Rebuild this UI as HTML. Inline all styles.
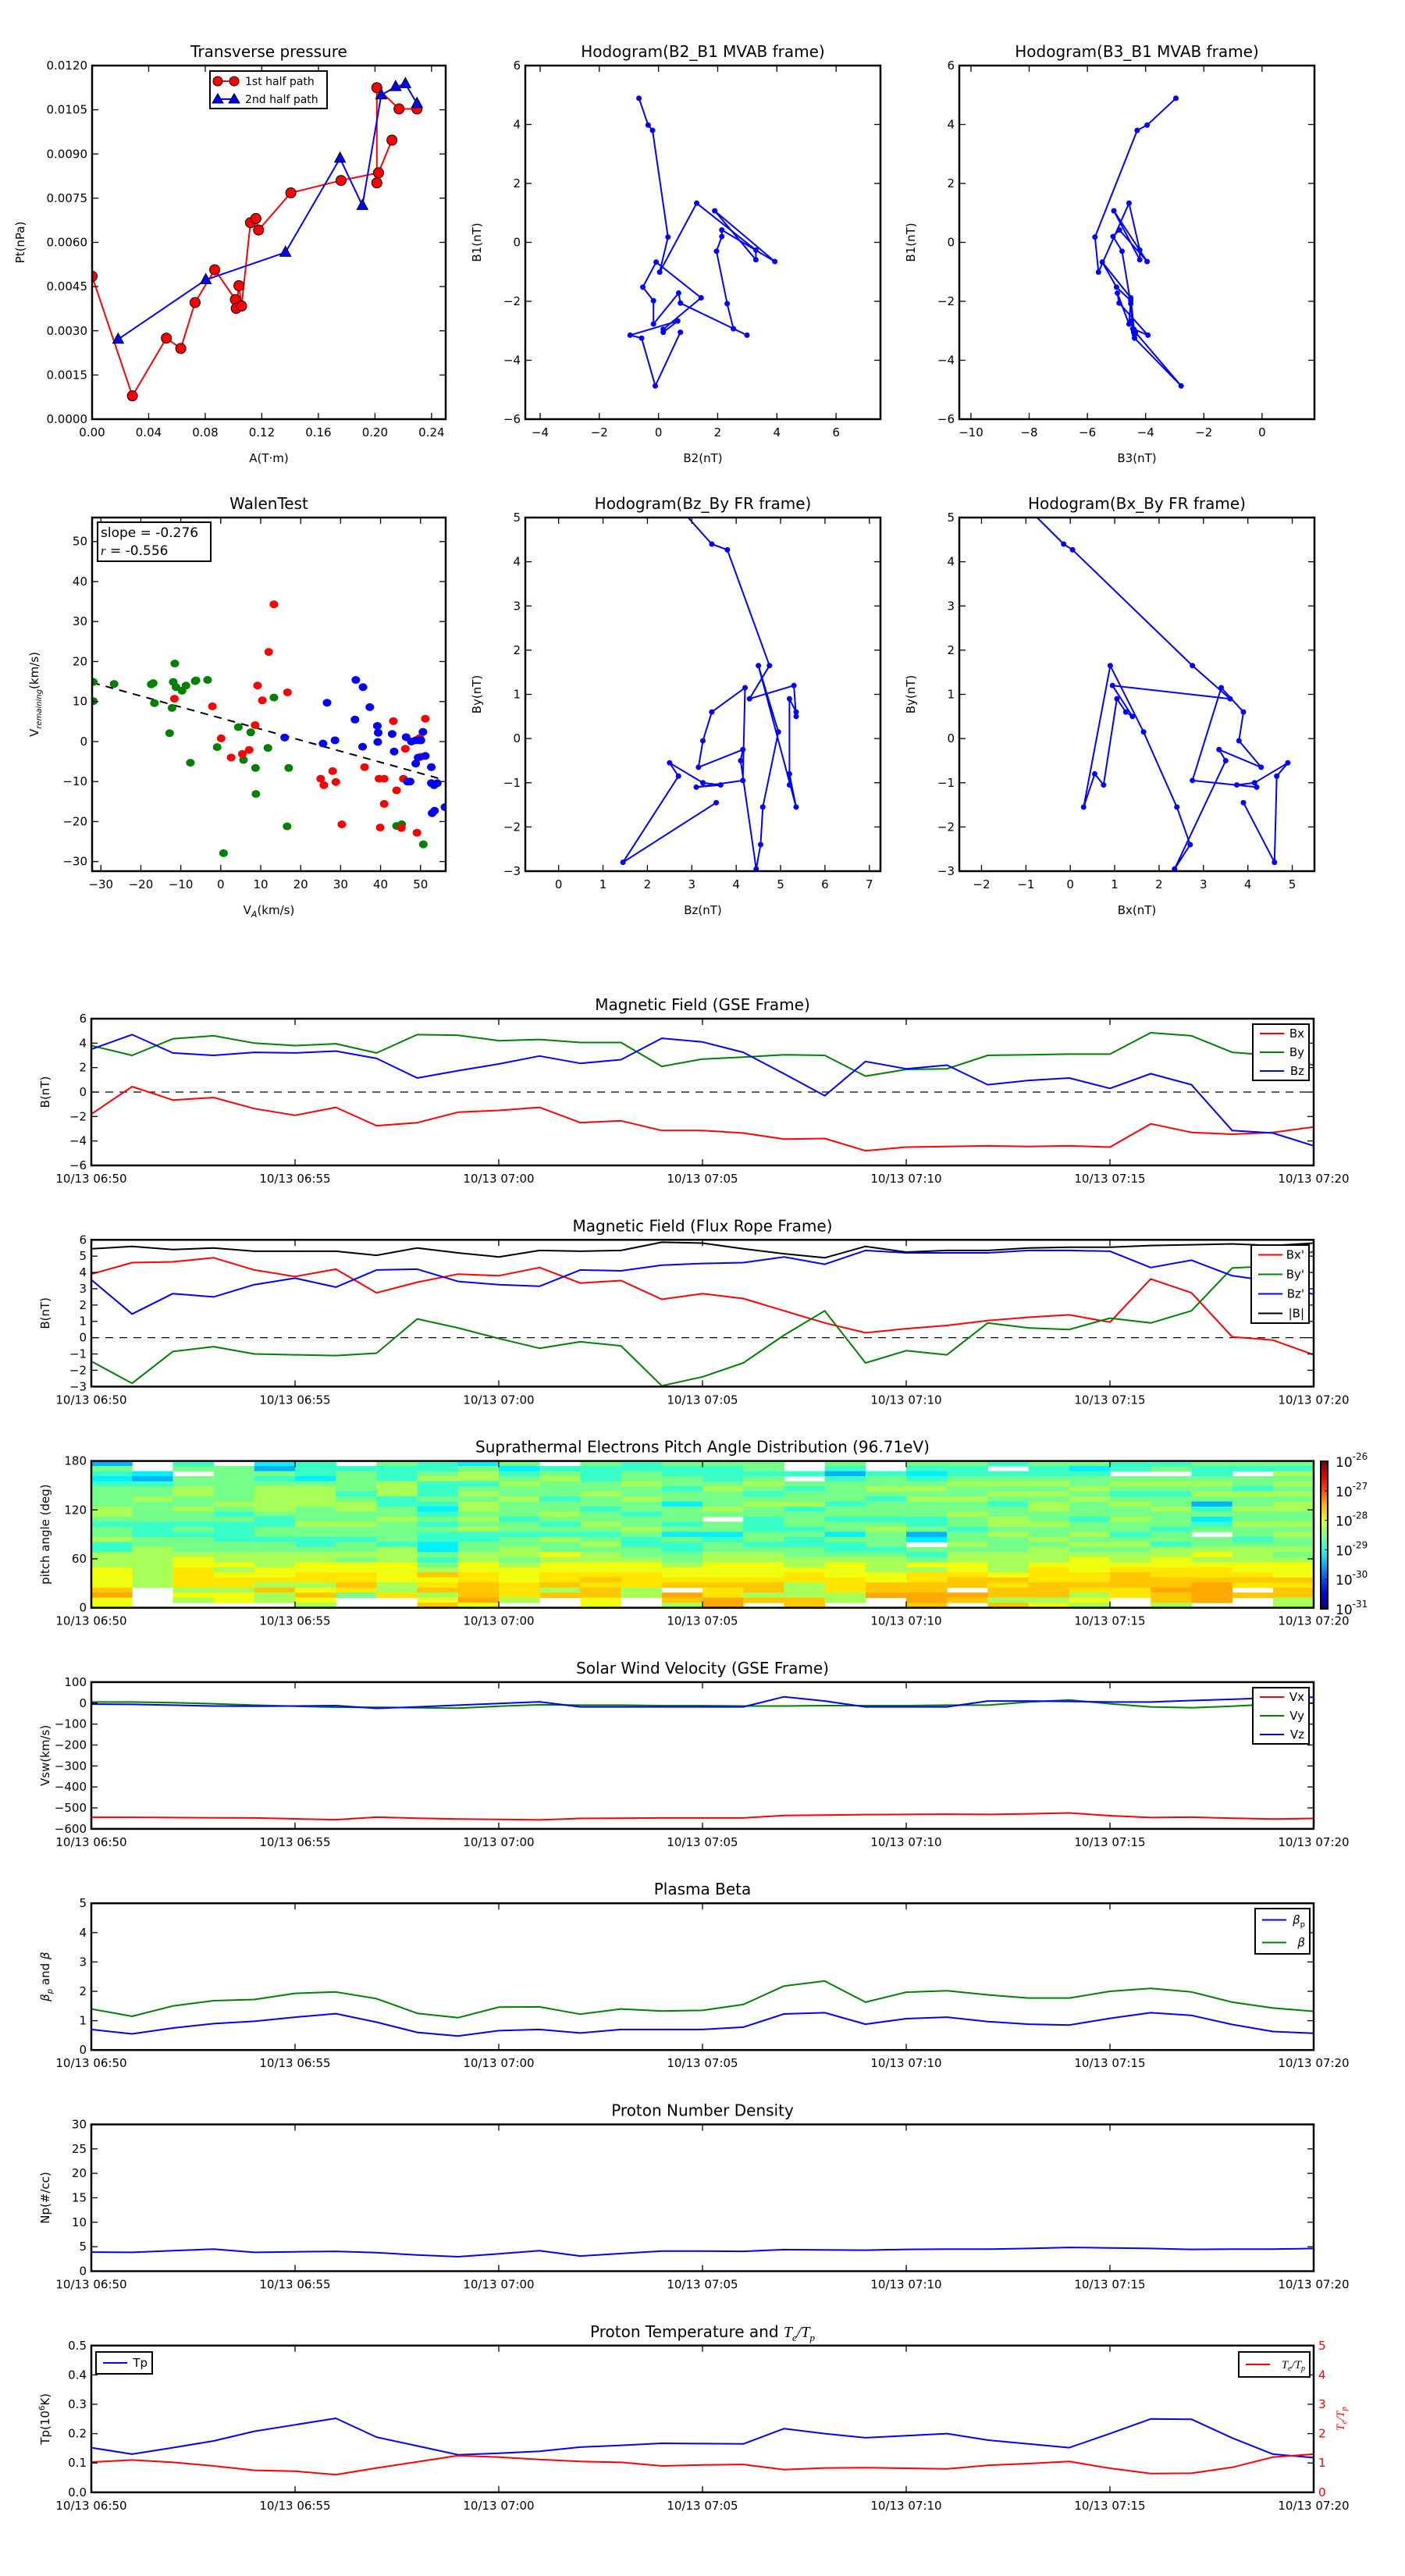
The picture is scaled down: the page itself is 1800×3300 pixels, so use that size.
<!DOCTYPE html>
<html><head><meta charset="utf-8"><title>Flux rope analysis</title>
<style>
html,body{margin:0;padding:0;background:#fff;}
svg{display:block;font-family:"DejaVu Sans","Liberation Sans",sans-serif;}
</style></head>
<body>
<svg id="fig" xmlns="http://www.w3.org/2000/svg" width="1800" height="3300" viewBox="0 0 1800 3300"><defs id="defs"></defs><rect x="0" y="0" width="1800" height="3300" fill="#fff"/></svg>
<script>
// ---------- data ----------
const ptRedA=[0,0.0285,0.0525,0.0627,0.0728,0.0867,0.1013,0.1019,0.1038,0.1057,0.112,0.1158,0.1177,0.1405,0.176,0.2025,0.212,0.2025,0.2013,0.2013,0.217,0.2297];
const ptRedP=[0.00485,0.00079,0.00275,0.0024,0.00396,0.00507,0.00406,0.00376,0.00453,0.00384,0.00667,0.00681,0.00642,0.00768,0.0081,0.00836,0.00947,0.00836,0.00802,0.01125,0.01053,0.01053];
const ptBlueA=[0.0184,0.0804,0.1367,0.1753,0.1911,0.2044,0.2146,0.2215,0.2297];
const ptBlueP=[0.00271,0.00473,0.00566,0.00885,0.00725,0.0110,0.01128,0.01138,0.01071];
const hodoB2=[-0.66,-0.35,-0.20,0.32,0.04,1.29,3.29,3.29,1.90,3.93,2.14,2.14,1.96,2.32,2.53,2.99,0.74,0.68,-0.17,-0.17,-0.53,-0.08,1.44,0.16,0.16,0.65,-0.96,-0.57,-0.11,0.74];
const hodoB1=[4.89,3.98,3.80,0.18,-1.01,1.33,-0.26,-0.59,1.07,-0.65,0.42,0.20,-0.30,-2.08,-2.93,-3.15,-2.06,-1.72,-2.77,-1.98,-1.52,-0.67,-1.88,-2.95,-3.05,-2.67,-3.15,-3.25,-4.87,-3.05];
const hodoB3=[-2.96,-3.95,-4.29,-5.74,-5.62,-4.57,-4.20,-4.20,-5.09,-3.95,-4.9,-5.12,-4.81,-4.51,-4.44,-3.92,-4.91,-4.97,-4.57,-4.51,-5.0,-5.49,-4.51,-4.4,-4.41,-4.5,-4.38,-4.38,-2.78,-4.35];
const walenGreenX=[-31.9,-31.9,-26.7,-17.4,-16.9,-16.6,-12.2,-11.9,-11.5,-11.2,-9.7,-8.7,-6.4,-6.2,-3.3,-12.8,-7.6,-0.9,4.4,5.7,7.5,8.7,8.8,11.8,13.3,16.6,17.0,0.7,44.0,45.3,50.7];
const walenGreenY=[14.9,10.1,14.4,14.3,14.6,9.6,8.4,14.9,19.5,13.6,12.7,14.0,15.1,15.3,15.4,2.1,-5.3,-1.4,3.6,-4.6,2.3,-6.6,-13.1,-1.6,11.0,-21.2,-6.6,-27.9,-21.1,-20.7,-25.7];
const walenRedX=[-11.6,-2.1,0.1,2.6,5.4,7.1,8.6,9.2,10.4,12.0,13.3,16.7,25.0,25.8,28.0,28.8,30.3,36.0,39.6,40.9,40.9,39.9,43.2,44.0,45.7,45.2,46.2,49.1,49.8,50.1,51.2];
const walenRedY=[10.7,8.8,0.8,-4.0,-3.1,-2.1,4.1,14.0,10.3,22.4,34.3,12.3,-9.3,-10.9,-7.4,-10.1,-20.7,-6.4,-9.3,-9.3,-15.6,-21.5,5.1,-12.2,-9.3,-21.6,-1.8,-22.8,0.9,-3.8,5.7];
const walenBlueX=[16.0,25.6,26.6,28.6,33.6,33.8,35.5,35.6,37.3,39.2,39.4,39.3,42.9,43.4,46.4,46.7,47.4,47.7,48.8,48.8,49.4,49.8,50.1,50.6,51.2,52.7,52.7,53.4,54.2,52.9,53.5,56.1];
const walenBlueY=[1.0,-0.5,9.7,0.3,5.5,15.4,-1.3,13.6,8.6,3.9,2.2,-0.1,1.9,-2.5,1.1,-10.0,-10.0,0.0,0.3,-5.5,-4.0,0.3,0.3,2.4,-3.6,-6.4,-10.4,-10.9,-10.4,-17.9,-17.3,-16.4];
const walenSlope=-0.276, walenIntercept=5.86;
const timeTickLabels=["10/13 06:50","10/13 06:55","10/13 07:00","10/13 07:05","10/13 07:10","10/13 07:15","10/13 07:20"];
const BxGSE=[-1.8,0.45,-0.65,-0.45,-1.35,-1.9,-1.25,-2.75,-2.5,-1.65,-1.5,-1.25,-2.5,-2.35,-3.15,-3.15,-3.35,-3.85,-3.8,-4.8,-4.5,-4.45,-4.4,-4.45,-4.4,-4.5,-2.6,-3.3,-3.45,-3.3,-2.85];
const ByGSE=[3.8,3.0,4.35,4.6,4.0,3.8,3.95,3.2,4.7,4.65,4.2,4.3,4.05,4.05,2.1,2.7,2.85,3.05,3.0,1.3,1.85,1.9,3.0,3.05,3.1,3.1,4.85,4.6,3.25,3.0,2.2];
const BzGSE=[3.5,4.7,3.2,3.0,3.25,3.2,3.35,2.75,1.15,1.75,2.3,2.95,2.35,2.65,4.4,4.1,3.25,1.5,-0.3,2.5,1.9,2.2,0.6,0.95,1.15,0.3,1.5,0.6,-3.15,-3.35,-4.4];
const BxFR=[3.9,4.6,4.65,4.9,4.15,3.75,4.2,2.75,3.4,3.9,3.8,4.3,3.35,3.5,2.35,2.7,2.4,1.65,0.9,0.3,0.55,0.75,1.05,1.25,1.4,0.95,3.6,2.75,0.05,-0.15,-1.05];
const ByFR=[-1.45,-2.8,-0.85,-0.55,-1.0,-1.05,-1.1,-0.95,1.15,0.6,-0.05,-0.65,-0.25,-0.5,-2.95,-2.4,-1.55,0.15,1.65,-1.55,-0.8,-1.05,0.9,0.6,0.5,1.2,0.9,1.65,4.27,4.4,5.3];
const BzFR=[3.55,1.45,2.7,2.5,3.25,3.65,3.1,4.15,4.2,3.45,3.25,3.15,4.15,4.1,4.45,4.55,4.6,4.95,4.5,5.35,5.2,5.2,5.2,5.35,5.35,5.3,4.3,4.75,3.8,3.45,2.65];
const BtFR=[5.45,5.6,5.4,5.5,5.3,5.3,5.3,5.05,5.5,5.2,4.95,5.35,5.3,5.35,5.85,5.8,5.45,5.15,4.9,5.6,5.25,5.35,5.35,5.5,5.55,5.55,5.65,5.7,5.75,5.65,5.8];
// pitch-angle columns, top (180 deg) to bottom (0 deg); codes = flux levels
const padColumns=[
"bgacaggggllgagglaalllyyyyOryy","..cbagglggggaaaggllllllll....","ag.ggllgglggagagggly yoooolyl.".replace(' ',''),".ggggggglgagaaaaggllylyoolyy..",
"cbgaglllllgaaggaggll lyyolOll.".replace(' ',''),"aaacgllllggglggaaglly yoolyOyl".replace(' ',''),".aggggagllgglggagglgyyooOog..","gaaalllaagglggggalllyyyyllo..",
"aaglaaagacagagaaccgaglOyoOlyO","cgllaglgllglglaagglly ooOOOryy".replace(' ','').replace('ooO','yooO').slice(0,29),"gcaglgglgggaggaggllglyyyoool.",".aglgggagglgagalggylyyooOlO..",
"gaaagglggagglgaglgllyyoOoOOyy","aagglgglggagglgaagglyyoooll..","gaaggaggcgggagcgaagglyyoO.rOl","gaaaglggglg.ggcaggllyyyoOoorr",
"ggaglgaglggaaaggagllyyyoOOlO.","..a.gagglagggagaaggllyoolllOO","gabaggggaggaggcgaaglyyyoooll.","..agglgagggaglgggagllly yOOr..".replace(' ',''),
"gacaglglgggaagbc.gagylooOOrrO","gaaglgglgglggagglgllyyoOO.rO.","a.aglglgaggllglgggllllyOoOOlO.","gaaglglgllgglgglglllyoooOOOly",
"gcagglglgggagglglglyyyooOolyl","aa.glgaglgglggaglgllyoOOOoo..","ag.glgaggl gggaggallyyooOOrOOl".replace(' ',''),"gaaglglgbagcag.ggl ylyooOrrrr.".replace(' ',''),"ga.ggalgglgglggaglllyyoOo.O..","galglglgllgglglgglglyyyOoOOll"];
const padCodes=["b","c","a","g","l","y","o","O","r"];
const padLogFlux=[-29.5,-29.2,-28.85,-28.55,-28.3,-27.95,-27.75,-27.6,-27.45];
const cbarTicks=[-26,-27,-28,-29,-30,-31];
const Vx=[-545,-545,-546,-547,-548,-552,-556,-544,-549,-553,-555,-557,-550,-549,-548,-548,-548,-536,-534,-532,-531,-530,-531,-528,-524,-537,-546,-544,-549,-553,-550];
const Vy=[5,5,2,-3,-10,-15,-20,-20,-22,-24,-15,-8,-10,-10,-12,-12,-14,-14,-12,-12,-12,-10,-10,5,15,-3,-18,-22,-15,-5,0];
const Vz=[-5,-6,-10,-14,-15,-14,-12,-25,-18,-10,-2,6,-18,-18,-18,-18,-18,30,10,-18,-18,-18,10,10,8,5,5,12,18,25,28];
const betaP=[0.7,0.55,0.75,0.9,0.98,1.12,1.24,0.95,0.6,0.48,0.66,0.7,0.58,0.7,0.7,0.7,0.78,1.23,1.27,0.88,1.07,1.12,0.97,0.88,0.85,1.08,1.27,1.18,0.87,0.63,0.57];
const betaT=[1.4,1.15,1.5,1.68,1.72,1.93,1.98,1.75,1.25,1.1,1.46,1.47,1.22,1.4,1.33,1.35,1.55,2.18,2.35,1.63,1.97,2.02,1.88,1.77,1.77,2.0,2.1,1.98,1.63,1.43,1.32];
const Np=[3.9,3.85,4.2,4.5,3.85,3.95,4.05,3.8,3.3,2.95,3.55,4.2,3.1,3.6,4.1,4.1,4.05,4.4,4.35,4.3,4.45,4.5,4.5,4.65,4.85,4.75,4.65,4.45,4.5,4.5,4.65];
const Tp=[0.152,0.13,0.152,0.175,0.208,0.23,0.252,0.188,0.158,0.128,0.133,0.14,0.154,0.16,0.167,0.166,0.165,0.217,0.2,0.186,0.193,0.2,0.178,0.165,0.152,0.2,0.25,0.249,0.185,0.13,0.118];
const TeTp=[1.03,1.1,1.02,0.9,0.75,0.72,0.6,0.83,1.04,1.25,1.2,1.12,1.05,1.02,0.9,0.93,0.95,0.77,0.83,0.84,0.82,0.8,0.92,0.98,1.05,0.82,0.64,0.65,0.85,1.2,1.3];

// ---------- helpers ----------
const NS='http://www.w3.org/2000/svg';
const svg=document.getElementById('fig');
const defs=document.getElementById('defs');
function el(tag,attrs,parent){const e=document.createElementNS(NS,tag);for(const k in attrs)e.setAttribute(k,attrs[k]);(parent||svg).appendChild(e);return e;}
function txt(str,attrs,parent){const e=el('text',attrs,parent);e.textContent=str;return e;}
let axCount=0;
function makeAxes(name,x,y,w,h,xmin,xmax,ymin,ymax){
  const sx=v=>x+(v-xmin)/(xmax-xmin)*w;
  const sy=v=>y+h-(v-ymin)/(ymax-ymin)*h;
  const g=el('g',{});
  
  
  const cid='clip'+(axCount++);
  const cp=el('clipPath',{id:cid},defs);
  el('rect',{x:x,y:y,width:w,height:h},cp);
  const plot=el('g',{'clip-path':'url(#'+cid+')'},g);
  
  
  return {x,y,w,h,sx,sy,g,plot,name};
}
function fmt(v){return String(v).replace('-','\u2212');}
function frame(ax,xt,xl,yt,yl,opts){
  opts=opts||{};
  const g=el('g',{},ax.g);
  
  
  const tl=8;
  xt.forEach((v,i)=>{
    const px=ax.sx(v);
    el('line',{x1:px,y1:ax.y+ax.h,x2:px,y2:ax.y+ax.h-tl,stroke:'#000','stroke-width':1.3},g);
    el('line',{x1:px,y1:ax.y,x2:px,y2:ax.y+tl,stroke:'#000','stroke-width':1.3},g);
    if(xl){const t=txt(xl[i],{x:px,y:ax.y+ax.h+22,'text-anchor':'middle','font-size':15,fill:'#000'},g);
      
      }
  });
  yt.forEach((v,i)=>{
    const py=ax.sy(v);
    el('line',{x1:ax.x,y1:py,x2:ax.x+tl,y2:py,stroke:'#000','stroke-width':1.3},g);
    if(!opts.noRightTicks) el('line',{x1:ax.x+ax.w,y1:py,x2:ax.x+ax.w-tl,y2:py,stroke:'#000','stroke-width':1.3},g);
    if(yl){const t=txt(yl[i],{x:ax.x-6,y:py+5,'text-anchor':'end','font-size':15,fill:'#000'},g);
      
      }
  });
  el('rect',{x:ax.x,y:ax.y,width:ax.w,height:ax.h,fill:'none',stroke:'#000','stroke-width':2.5},g);
}
function title(ax,str){
  const t=txt(str,{x:ax.x+ax.w/2,y:ax.y-11,'text-anchor':'middle','font-size':20,fill:'#000'},ax.g);
  
  
  return t;
}
function xlabel(ax,str){
  const t=txt(str,{x:ax.x+ax.w/2,y:ax.y+ax.h+55,'text-anchor':'middle','font-size':15,fill:'#000'},ax.g);
  
  
  return t;
}
function ylabel(ax,str,x,color){
  const cy=ax.y+ax.h/2;
  const t=txt(str,{x:x,y:cy,'text-anchor':'middle','font-size':15,fill:color||'#000',transform:'rotate(-90 '+x+' '+cy+')'},ax.g);
  
  
  return t;
}
function line(ax,xs,ys,color,name,w){
  const d=xs.map((v,i)=>(i?'L':'M')+ax.sx(v).toFixed(1)+' '+ax.sy(ys[i]).toFixed(1)).join(' ');
  const p=el('path',{d:d,fill:'none',stroke:color,'stroke-width':w||2,'stroke-linejoin':'round'},ax.plot);
  
  
  return p;
}
function dots(ax,xs,ys,color,name,rx,ry){
  const g=el('g',{},ax.plot);
  
  
  xs.forEach((v,i)=>{
    const c=el('ellipse',{cx:ax.sx(v),cy:ax.sy(ys[i]),rx:rx,ry:ry||rx,fill:color},g);
    
    
  });
  return g;
}
function hline0(ax,xmin,xmax){
  const p=el('line',{x1:ax.sx(xmin),x2:ax.sx(xmax),y1:ax.sy(0),y2:ax.sy(0),stroke:'#000','stroke-width':1.3,'stroke-dasharray':'10 8'},ax.plot);
  
  
}
function legend(parentAx,x,y,w,h,entries,name){
  const g=el('g',{},parentAx.g);
  
  
  el('rect',{x:x,y:y,width:w,height:h,fill:'#fff',stroke:'#000','stroke-width':2},g);
  const step=h/entries.length;
  entries.forEach((e,i)=>{
    const cy=y+step*(i+0.5);
    const item=el('g',{},g);
    
    
    el('line',{x1:x+9,x2:x+40,y1:cy,y2:cy,stroke:e.c,'stroke-width':2},item);
    const t=txt(e.t,{x:x+w-6,y:cy+5,'text-anchor':'end','font-size':15,fill:'#000'},item);
    if(e.html){t.textContent='';e.html(t);}
  });
  return g;
}
const minutes=Array.from({length:31},(_,i)=>i);
const timeTicks=[0,5,10,15,20,25,30];
function range(a,b,s){const r=[];for(let v=a;v<=b+1e-9;v+=s)r.push(+v.toFixed(6));return r;}

// ---------- Row 1 ----------
{
  const ax=makeAxes('transverse-pressure',118,84,453,453,0,0.25,0,0.012);
  line(ax,ptRedA,ptRedP,'#f00','first-half-path-line',2);
  line(ax,ptBlueA,ptBlueP,'#00f','second-half-path-line',2);
  const gr=el('g',{},ax.plot);
  
  
  ptRedA.forEach((v,i)=>{el('circle',{cx:ax.sx(v),cy:ax.sy(ptRedP[i]),r:6.5,fill:'#f00',stroke:'#000','stroke-width':1},gr);});
  const gb=el('g',{},ax.plot);
  
  
  ptBlueA.forEach((v,i)=>{const cx=ax.sx(v),cy=ax.sy(ptBlueP[i]);
    el('path',{d:`M${cx} ${cy-8} L${cx+7} ${cy+5} L${cx-7} ${cy+5} Z`,fill:'#00f',stroke:'#000','stroke-width':1},gb);});
  const xt=range(0,0.24,0.04), yt=range(0,0.012,0.0015);
  frame(ax,xt,xt.map(v=>v.toFixed(2)),yt,yt.map(v=>v.toFixed(4)));
  title(ax,'Transverse pressure');
  xlabel(ax,'A(T\u00b7m)');
  ylabel(ax,'Pt(nPa)',31);
  const lg=el('g',{},ax.g);
  
  
  el('rect',{x:269,y:91,width:150,height:48,fill:'#fff',stroke:'#000','stroke-width':2},lg);
  el('line',{x1:279,x2:300,y1:104,y2:104,stroke:'#f00','stroke-width':2},lg);
  el('circle',{cx:279,cy:104,r:6,fill:'#f00',stroke:'#000'},lg);
  el('circle',{cx:300,cy:104,r:6,fill:'#f00',stroke:'#000'},lg);
  txt('1st half path',{x:314,y:109,'font-size':14},lg);
  el('line',{x1:279,x2:300,y1:127,y2:127,stroke:'#00f','stroke-width':2},lg);
  el('path',{d:'M279 120 L286 132 L272 132 Z M300 120 L307 132 L293 132 Z',fill:'#00f',stroke:'#000'},lg);
  txt('2nd half path',{x:314,y:132,'font-size':14},lg);
}
function hodo(name,x,xs,ys,xmin,xmax,ymin,ymax,xt,yt,tt,xl,yl,yTop){
  const ax=makeAxes(name,x,yTop,455,453,xmin,xmax,ymin,ymax);
  line(ax,xs,ys,'#00f',name+'-path',2);
  dots(ax,xs,ys,'#00f',name+'-points',3.5);
  frame(ax,xt,xt.map(fmt),yt,yt.map(fmt));
  title(ax,tt); xlabel(ax,xl); ylabel(ax,yl,x-57);
}
hodo('hodogram-b2-b1',673,hodoB2,hodoB1,-4.5,7.5,-6,6,range(-4,6,2),range(-6,6,2),'Hodogram(B2_B1 MVAB frame)','B2(nT)','B1(nT)',84);
hodo('hodogram-b3-b1',1229,hodoB3,hodoB1,-10.4,1.8,-6,6,range(-10,0,2),range(-6,6,2),'Hodogram(B3_B1 MVAB frame)','B3(nT)','B1(nT)',84);

// ---------- Row 2 ----------
{
  const ax=makeAxes('walen-test',118,663,453,453,-32.2,56.3,-32.4,56);
  const ln=el('line',{x1:ax.sx(-32.2),y1:ax.sy(walenIntercept+walenSlope*-32.2),x2:ax.sx(54.6),y2:ax.sy(walenIntercept+walenSlope*54.6),stroke:'#000','stroke-width':2,'stroke-dasharray':'10 8'},ax.plot);
  
  
  dots(ax,walenGreenX,walenGreenY,'#008000','walen-green-points',5.5,5);
  dots(ax,walenRedX,walenRedY,'#f00','walen-red-points',5.5,5);
  dots(ax,walenBlueX,walenBlueY,'#00f','walen-blue-points',5.5,5);
  const xt=range(-30,50,10), yt=range(-30,50,10);
  frame(ax,xt,xt.map(fmt),yt,yt.map(fmt));
  title(ax,'WalenTest');
  const xlab=xlabel(ax,'');
  xlab.innerHTML='V<tspan font-size="11" font-style="italic" dy="4">A</tspan><tspan dy="-4">(km/s)</tspan>';
  const yll=ylabel(ax,'',49);
  yll.innerHTML='V<tspan font-size="10" font-style="italic" dy="4">remaining</tspan><tspan dy="-4">(km/s)</tspan>';
  const bx=el('g',{},ax.g);
  
  
  el('rect',{x:125,y:669,width:145,height:50,fill:'#fff',stroke:'#000','stroke-width':2},bx);
  txt('slope = -0.276',{x:129,y:688,'font-size':17},bx);
  const t2=txt('',{x:129,y:711,'font-size':17},bx);
  t2.innerHTML='<tspan font-style="italic" font-family="Liberation Serif, serif">r</tspan> = -0.556';
}
hodo('hodogram-bz-by',673,BzFR,ByFR,-0.75,7.25,-3,5,range(0,7,1),range(-3,5,1),'Hodogram(Bz_By FR frame)','Bz(nT)','By(nT)',663);
hodo('hodogram-bx-by',1229,BxFR,ByFR,-2.5,5.5,-3,5,range(-2,5,1),range(-3,5,1),'Hodogram(Bx_By FR frame)','Bx(nT)','By(nT)',663);

// ---------- time series ----------
const TSX=117, TSW=1566, TSH=188;
function tsTop(i){return 1305+i*283.3;}
function tsAxes(name,i,ymin,ymax,yt,ttl){
  const ax=makeAxes(name,TSX,tsTop(i),TSW,TSH,0,30,ymin,ymax);
  ax.yt=yt; ax.ttl=ttl; return ax;
}
function tsFinish(ax,ylab,opts){
  frame(ax,timeTicks,timeTickLabels,ax.yt,ax.yt.map(v=>fmt(v)),opts);
  title(ax,ax.ttl);
  if(ylab) ylabel(ax,ylab,63);
}
{
  const ax=tsAxes('magnetic-field-gse',0,-6,6,range(-6,6,2),'Magnetic Field (GSE Frame)');
  hline0(ax,0,30);
  line(ax,minutes,BxGSE,'#f00','bx-gse-line');
  line(ax,minutes,ByGSE,'#008000','by-gse-line');
  line(ax,minutes,BzGSE,'#00f','bz-gse-line');
  tsFinish(ax,'B(nT)');
  legend(ax,1605,1312,72,72,[{c:'#f00',t:'Bx'},{c:'#008000',t:'By'},{c:'#00f',t:'Bz'}],'gse-legend');
}
{
  const ax=tsAxes('magnetic-field-flux-rope',1,-3,6,range(-3,6,1),'Magnetic Field (Flux Rope Frame)');
  hline0(ax,0,30);
  line(ax,minutes,BxFR,'#f00','bx-fr-line');
  line(ax,minutes,ByFR,'#008000','by-fr-line');
  line(ax,minutes,BzFR,'#00f','bz-fr-line');
  line(ax,minutes,BtFR,'#000','btotal-fr-line');
  tsFinish(ax,'B(nT)');
  legend(ax,1603,1595,74,100,[{c:'#f00',t:"Bx'"},{c:'#008000',t:"By'"},{c:'#00f',t:"Bz'"},{c:'#000',t:'|B|'}],'fr-legend');
}
function jet(t){t=Math.max(0,Math.min(1,t));const f=x=>Math.round(255*Math.max(0,Math.min(1,1.5-Math.abs(x))));return `rgb(${f(4*t-3)},${f(4*t-2)},${f(4*t-1)})`;}
{
  const ax=tsAxes('pitch-angle-distribution',2,0,180,[0,60,120,180],'Suprathermal Electrons Pitch Angle Distribution (96.71eV)');
  const nRows=29, rowH=180/nRows;
  padColumns.forEach((s,j)=>{
    const col=s.padEnd(nRows,'.').slice(0,nRows);
    for(let r=0;r<nRows;r++){
      const k=padCodes.indexOf(col[r]);
      if(k<0) continue;
      const v=padLogFlux[k];
      const top=180-r*rowH;
      const c=el('rect',{x:ax.sx(j),y:ax.sy(top),width:ax.sx(j+1)-ax.sx(j)+0.5,height:ax.sy(top-rowH)-ax.sy(top)+0.5,fill:jet((v+31)/5)},ax.plot);
      
      
    }
  });
  tsFinish(ax,'pitch angle (deg)');
  const cg=el('g',{});
  
  
  const gid='jetgrad';
  const lg=el('linearGradient',{id:gid,x1:0,y1:1,x2:0,y2:0},defs);
  for(let i=0;i<=10;i++) el('stop',{offset:i/10,'stop-color':jet(i/10)},lg);
  const cy0=1872, cy1=2061;
  el('rect',{x:1692,y:cy0,width:9,height:cy1-cy0,fill:'url(#'+gid+')',stroke:'#000','stroke-width':2},cg);
  cbarTicks.forEach(v=>{
    const py=cy0+(-26-v)/5*(cy1-cy0);
    el('line',{x1:1697,x2:1701,y1:py,y2:py,stroke:'#000'},cg);
    const t=txt('',{x:1711,y:py+7,'font-size':17},cg);
    t.innerHTML='10<tspan font-size="12" dy="-9">'+v+'</tspan>';
    
    
  });
}
{
  const ax=tsAxes('solar-wind-velocity',3,-600,100,range(-600,100,100),'Solar Wind Velocity (GSE Frame)');
  line(ax,minutes,Vx,'#f00','vx-line');
  line(ax,minutes,Vy,'#008000','vy-line');
  line(ax,minutes,Vz,'#00f','vz-line');
  tsFinish(ax,'Vsw(km/s)');
  legend(ax,1605,2162,72,72,[{c:'#f00',t:'Vx'},{c:'#008000',t:'Vy'},{c:'#00f',t:'Vz'}],'velocity-legend');
}
{
  const ax=tsAxes('plasma-beta',4,0,5,range(0,5,1),'Plasma Beta');
  line(ax,minutes,betaP,'#00f','beta-p-line');
  line(ax,minutes,betaT,'#008000','beta-line');
  tsFinish(ax,null);
  const yl=ylabel(ax,'',63);
  yl.innerHTML='<tspan font-style="italic">\u03b2<tspan font-size="10" dy="4">p</tspan></tspan><tspan dy="-4"> and </tspan><tspan font-style="italic">\u03b2</tspan>';
  legend(ax,1608,2445,70,58,[{c:'#00f',t:'\u03b2p',html:t=>{t.innerHTML='<tspan font-style="italic">\u03b2</tspan><tspan font-size="10" dy="4">p</tspan>';}},{c:'#008000',t:'\u03b2',html:t=>{t.innerHTML='<tspan font-style="italic">\u03b2</tspan>';}}],'beta-legend');
}
{
  const ax=tsAxes('proton-density',5,0,30,range(0,30,5),'Proton Number Density');
  line(ax,minutes,Np,'#00f','np-line');
  tsFinish(ax,'Np(#/cc)');
}
{
  const ax=tsAxes('proton-temperature',6,0,0.5,range(0,0.5,0.1),'Proton Temperature and Te/Tp');
  const rsy=v=>ax.y+ax.h-v/5*ax.h;
  line(ax,minutes,Tp,'#00f','tp-line');
  const d=minutes.map((m,i)=>(i?'L':'M')+ax.sx(m).toFixed(1)+' '+rsy(TeTp[i]).toFixed(1)).join(' ');
  const p=el('path',{d:d,fill:'none',stroke:'#f00','stroke-width':2},ax.plot);
  
  
  frame(ax,timeTicks,timeTickLabels,ax.yt,ax.yt.map(v=>v.toFixed(1)),{noRightTicks:true});
  const tt=title(ax,'');
  tt.innerHTML='Proton Temperature and <tspan font-family="Liberation Serif, serif" font-style="italic">T<tspan font-size="13" dy="5">e</tspan><tspan dy="-5">/T</tspan><tspan font-size="13" dy="5">p</tspan></tspan>';
  const yl=ylabel(ax,'',63);
  yl.innerHTML='Tp(10<tspan font-size="10" dy="-6">6</tspan><tspan dy="6">K)</tspan>';
  const rg=el('g',{},ax.g);
  
  
  [0,1,2,3,4,5].forEach(v=>{
    el('line',{x1:ax.x+ax.w,x2:ax.x+ax.w-8,y1:rsy(v),y2:rsy(v),stroke:'#000','stroke-width':1.3},rg);
    txt(String(v),{x:ax.x+ax.w+6,y:rsy(v)+5,'font-size':15,fill:'#f00'},rg);
  });
  const cy=ax.y+ax.h/2;
  const ry=txt('',{x:1722,y:cy,'text-anchor':'middle','font-size':15,fill:'#f00','font-family':'Liberation Serif, serif','font-style':'italic',transform:'rotate(-90 1722 '+cy+')'},rg);
  ry.innerHTML='T<tspan font-size="10" dy="3">e</tspan><tspan dy="-3">/T</tspan><tspan font-size="10" dy="3">p</tspan>';
  legend(ax,123,3013,72,28,[{c:'#00f',t:'Tp'}],'tp-legend');
  legend(ax,1587,3013,91,32,[{c:'#f00',t:'Te/Tp',html:t=>{t.setAttribute('font-family','Liberation Serif, serif');t.setAttribute('font-style','italic');t.innerHTML='T<tspan font-size="10" dy="3">e</tspan><tspan dy="-3">/T</tspan><tspan font-size="10" dy="3">p</tspan>';}}],'te-tp-legend');
}
</script>
</body></html>
